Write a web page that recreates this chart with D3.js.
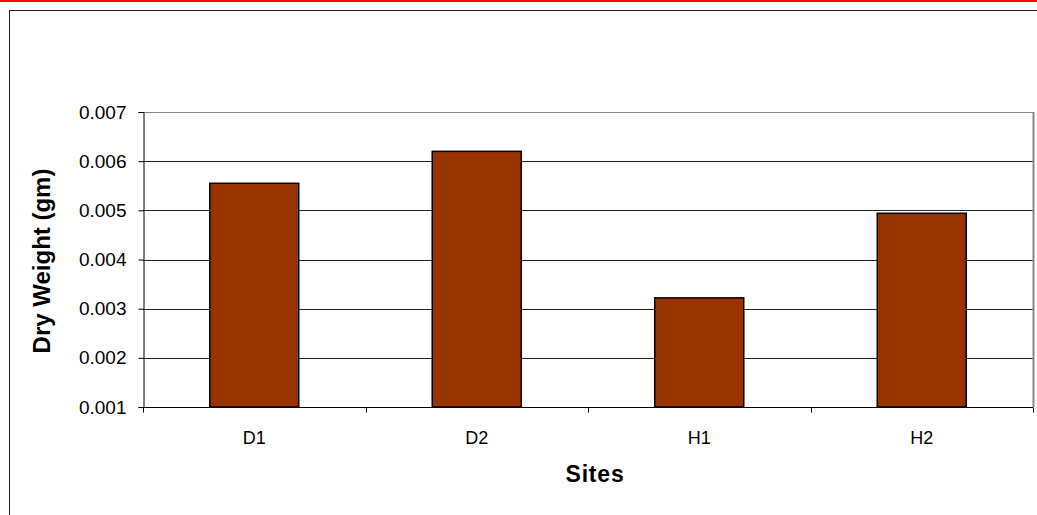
<!DOCTYPE html>
<html>
<head>
<meta charset="utf-8">
<script src="https://cdn.jsdelivr.net/npm/d3@7"></script>
<style>
  body { margin: 0; background: #fff; }
  svg { display: block; font-family: "Liberation Sans", Arial, sans-serif; }
</style>
</head>
<body>
<div id="chart"></div>
<script>
const sites = ["D1", "D2", "H1", "H2"];
const dryWeight = [0.00555, 0.0062, 0.00322, 0.00494];
const yTicks = [0.001, 0.002, 0.003, 0.004, 0.005, 0.006, 0.007];

const width = 1037;
const height = 515;
const margin = { top: 112, right: 4, bottom: 108, left: 143 };

const svg = d3.select("#chart")
  .append("svg")
  .attr("width", width)
  .attr("height", height);

// red rule along the very top, then the chart frame
svg.append("line")
  .attr("x1", 0).attr("x2", width)
  .attr("y1", 1).attr("y2", 1)
  .attr("stroke", "#ff0000")
  .attr("stroke-width", 2);

svg.append("rect")
  .attr("x", 9.5).attr("y", 10.5)
  .attr("width", width + 20).attr("height", height + 20)
  .attr("fill", "none")
  .attr("stroke", "#222")
  .attr("stroke-width", 1);

const x = d3.scaleBand()
  .domain(sites)
  .range([margin.left, width - margin.right])
  .paddingInner(0.6)
  .paddingOuter(0.3);

const y = d3.scaleLinear()
  .domain([0.001, 0.007])
  .range([height - margin.bottom, margin.top]);

// gridlines
svg.append("g")
  .selectAll("line")
  .data(yTicks.slice(1))
  .enter()
  .append("line")
  .attr("x1", margin.left)
  .attr("x2", width - margin.right)
  .attr("y1", (d) => Math.round(y(d)) + 0.5)
  .attr("y2", (d) => Math.round(y(d)) + 0.5)
  .attr("stroke", (d) => d === 0.007 ? "#888" : "#222")
  .attr("stroke-width", 1);

// right border of plot area
svg.append("line")
  .attr("x1", width - margin.right + 0.5)
  .attr("x2", width - margin.right + 0.5)
  .attr("y1", y(0.007))
  .attr("y2", y(0.001))
  .attr("stroke", "#888")
  .attr("stroke-width", 2);

// bars
svg.append("g")
  .selectAll("rect")
  .data(sites.map((s, i) => ({ site: s, value: dryWeight[i] })))
  .enter()
  .append("rect")
  .attr("x", (d) => x(d.site))
  .attr("y", (d) => y(d.value))
  .attr("width", x.bandwidth())
  .attr("height", (d) => y(0.001) - y(d.value))
  .attr("fill", "#993300")
  .attr("stroke", "#000")
  .attr("stroke-width", 1.5);

// y axis
const yAxis = svg.append("g")
  .attr("transform", `translate(${margin.left + 0.5},0)`)
  .call(d3.axisLeft(y).tickValues(yTicks).tickFormat(d3.format(".3f")).tickSize(5).tickPadding(12));
yAxis.selectAll("path, line").attr("stroke", "#000");
yAxis.selectAll("text")
  .attr("font-size", 19)
  .attr("fill", "#000")
  .attr("font-family", "Liberation Sans, Arial, sans-serif");

// x axis: ticks at category boundaries
const xAxisG = svg.append("g")
  .attr("transform", `translate(0,${y(0.001) + 0.5})`);
xAxisG.append("line")
  .attr("x1", margin.left)
  .attr("x2", width - margin.right)
  .attr("stroke", "#000");
const step = x.step();
const bounds = d3.range(sites.length + 1).map((i) => margin.left + i * step);
xAxisG.selectAll(".tk")
  .data(bounds)
  .enter()
  .append("line")
  .attr("x1", (d) => Math.round(d) + 0.5)
  .attr("x2", (d) => Math.round(d) + 0.5)
  .attr("y1", 0)
  .attr("y2", 5)
  .attr("stroke", "#000");
xAxisG.selectAll(".lbl")
  .data(sites)
  .enter()
  .append("text")
  .attr("x", (d) => x(d) + x.bandwidth() / 2)
  .attr("y", 36)
  .attr("text-anchor", "middle")
  .attr("font-size", 18)
  .text((d) => d);

// axis titles
svg.append("text")
  .attr("x", 595)
  .attr("y", 482)
  .attr("text-anchor", "middle")
  .attr("font-size", 23)
  .attr("font-weight", "bold")
  .attr("letter-spacing", 0.8)
  .text("Sites");

svg.append("text")
  .attr("transform", `translate(50,261) rotate(-90)`)
  .attr("text-anchor", "middle")
  .attr("font-size", 24)
  .attr("font-weight", "bold")
  .text("Dry Weight (gm)");
</script>
</body>
</html>
